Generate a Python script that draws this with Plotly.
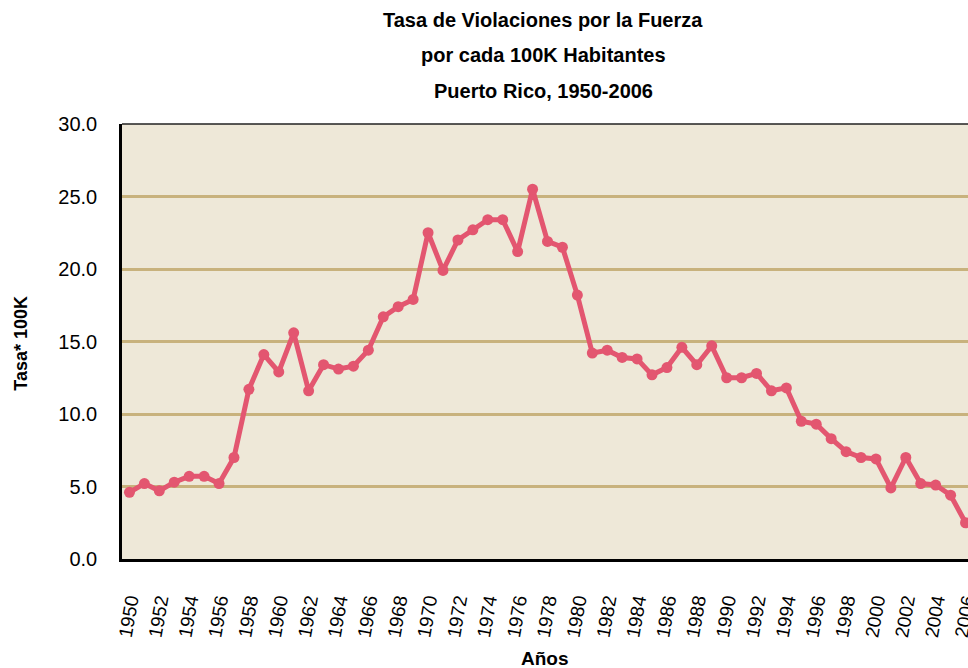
import plotly.graph_objects as go

years = list(range(1950, 2007))
rates = [4.6, 5.2, 4.7, 5.3, 5.7, 5.7, 5.2, 7.0, 11.7, 14.1,
         12.9, 15.6, 11.6, 13.4, 13.1, 13.3, 14.4, 16.7, 17.4, 17.9,
         22.5, 19.9, 22.0, 22.7, 23.4, 23.4, 21.2, 25.5, 21.9, 21.5,
         18.2, 14.2, 14.4, 13.9, 13.8, 12.7, 13.2, 14.6, 13.4, 14.7,
         12.5, 12.5, 12.8, 11.6, 11.8, 9.5, 9.3, 8.3, 7.4, 7.0,
         6.9, 4.9, 7.0, 5.2, 5.1, 4.4, 2.5]
tick_years = list(range(1950, 2007, 2))
tick_labels = [str(y) for y in tick_years]
y_ticks = [0, 5, 10, 15, 20, 25, 30]
y_labels = ["%.1f" % v for v in y_ticks]
title_lines = ["Tasa de Violaciones por la Fuerza",
               "por cada 100K Habitantes",
               "Puerto Rico, 1950-2006"]

NARROW = "Liberation Sans Narrow, Arial Narrow, Liberation Sans, Arial, sans-serif"
LINE_C = "#E35670"

fig = go.Figure()
fig.add_trace(go.Scatter(
    x=years, y=rates, mode="lines+markers",
    line=dict(color=LINE_C, width=5),
    marker=dict(color=LINE_C, size=11),
    cliponaxis=True, hoverinfo="x+y", showlegend=False,
))

W, H = 990, 668
ML, MR, MT, MB = 122, 11, 124, 109
pw = W - ML - MR
ph = H - MT - MB

def px_x(px):
    return (px - ML) / pw

def px_y(py):
    return (H - MB - py) / ph

annotations = []
for line, py in zip(title_lines, [20, 55, 91]):
    annotations.append(dict(
        text="<b>%s</b>" % line, x=px_x(546), y=px_y(py), xref="paper", yref="paper",
        xanchor="center", yanchor="middle", showarrow=False,
        font=dict(family=NARROW, size=20, color="black")))
annotations.append(dict(
    text="<b>Tasa* 100K</b>", x=px_x(20), y=px_y(343), xref="paper", yref="paper",
    xanchor="center", yanchor="middle", textangle=-90, showarrow=False,
    font=dict(family=NARROW, size=18, color="black")))
annotations.append(dict(
    text="<b>Años</b>", x=px_x(548), y=px_y(658), xref="paper", yref="paper",
    xanchor="center", yanchor="middle", showarrow=False,
    font=dict(family=NARROW, size=19, color="black")))

fig.update_layout(
    width=W, height=H,
    margin=dict(l=ML, r=MR, t=MT, b=MB, pad=0),
    paper_bgcolor="white", plot_bgcolor="#EEE8D8",
    annotations=annotations,
    shapes=[dict(type="line", xref="paper", yref="paper", x0=0, x1=1, y0=1, y1=1,
                 line=dict(color="#222222", width=1.5))],
)
fig.update_xaxes(
    range=[1949.5, 2006.5], tickmode="array", tickvals=tick_years, ticktext=tick_labels,
    tickangle=-80, tickfont=dict(family=NARROW, size=19, color="black"),
    ticks="outside", ticklen=20, tickcolor="rgba(0,0,0,0)",
    showgrid=False, zeroline=False, showline=True, linecolor="black", linewidth=3,
)
fig.update_yaxes(
    range=[0, 30], tickmode="array", tickvals=y_ticks, ticktext=y_labels,
    tickfont=dict(family=NARROW, size=20, color="black"),
    ticks="outside", ticklen=18, tickcolor="rgba(0,0,0,0)",
    showgrid=True, gridcolor="#C8B27D", gridwidth=2.5, zeroline=False,
    showline=True, linecolor="black", linewidth=2.5,
)

fig.write_html("out.html", config={"displayModeBar": False},
               post_script="document.body.style.margin='0';document.body.style.overflow='hidden';document.documentElement.style.overflow='hidden';")
